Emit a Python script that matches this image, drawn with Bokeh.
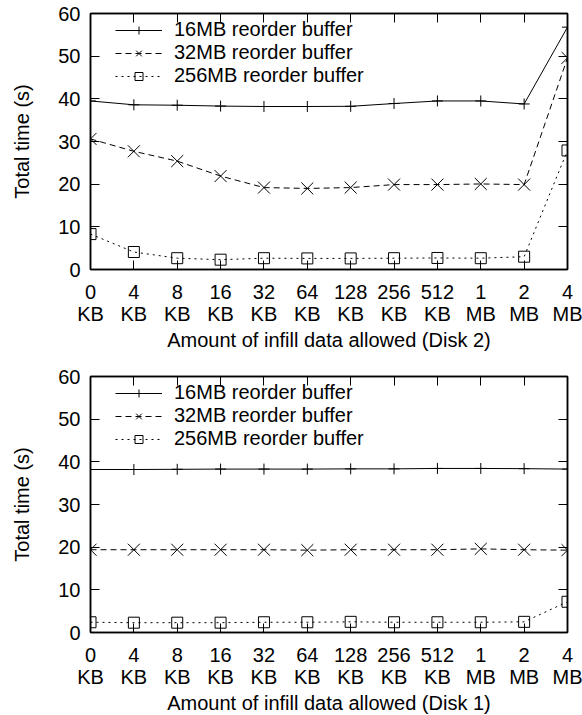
from bokeh.plotting import figure
from bokeh.layouts import column
from bokeh.models import (Range1d, FixedTicker, LinearAxis, Legend, LegendItem,
                          CustomJSTickFormatter)
from bokeh.embed import file_html
from bokeh.resources import INLINE

x_idx = list(range(12))
x_labels = ["0\nKB", "4\nKB", "8\nKB", "16\nKB", "32\nKB", "64\nKB", "128\nKB",
            "256\nKB", "512\nKB", "1\nMB", "2\nMB", "4\nMB"]
y_ticks = [0, 10, 20, 30, 40, 50, 60]

series_names = ["16MB reorder buffer", "32MB reorder buffer", "256MB reorder buffer"]

disk2_16 = [39.5, 38.6, 38.5, 38.3, 38.2, 38.2, 38.25, 38.9, 39.5, 39.5, 38.8, 56.8]
disk2_32 = [30.6, 27.7, 25.4, 21.9, 19.2, 19.0, 19.2, 19.9, 19.9, 20.05, 19.9, 49.6]
disk2_256 = [8.3, 4.1, 2.65, 2.3, 2.65, 2.6, 2.6, 2.65, 2.7, 2.65, 3.0, 27.9]

disk1_16 = [38.2, 38.2, 38.25, 38.3, 38.3, 38.3, 38.35, 38.35, 38.45, 38.45, 38.4, 38.3]
disk1_32 = [19.4, 19.4, 19.4, 19.4, 19.4, 19.3, 19.4, 19.4, 19.4, 19.6, 19.4, 19.3]
disk1_256 = [2.4, 2.3, 2.3, 2.3, 2.4, 2.4, 2.5, 2.4, 2.4, 2.4, 2.5, 7.2]

FONT = "Liberation Sans"
FS = "20px"

styles = [
    dict(dash="solid", marker="cross", size=11),
    dict(dash="6 4", marker="x", size=17),
    dict(dash="2 4", marker="square", size=11),
]

blank = CustomJSTickFormatter(code="return ''")


def make_plot(data, xlabel, top_border, bottom_border):
    p = figure(width=582, height=top_border + 256 + bottom_border,
               x_range=Range1d(0, 11), y_range=Range1d(0, 60),
               output_backend="svg", toolbar_location=None,
               min_border_left=90, min_border_right=15,
               min_border_top=top_border, min_border_bottom=bottom_border,
               frame_width=477, frame_height=256)
    p.xgrid.visible = False
    p.ygrid.visible = False
    p.outline_line_color = "black"
    p.outline_line_width = 1.5
    p.background_fill_color = "white"
    p.border_fill_color = "white"

    items = []
    for vals, name, st in zip(data, series_names, styles):
        r1 = p.line(x_idx, vals, line_color="black", line_width=1,
                    line_dash=st["dash"])
        kw = dict(line_color="black", line_width=1)
        if st["marker"] == "square":
            kw["fill_color"] = None
        r2 = p.scatter(x_idx, vals, marker=st["marker"], size=st["size"], **kw)
        items.append(LegendItem(label=name, renderers=[r1, r2]))

    legend = Legend(items=items, location=(25, 182),
                    label_text_font=FONT, label_text_font_size=FS,
                    label_text_color="black",
                    glyph_width=47, glyph_height=20, label_height=20,
                    label_standoff=12, spacing=-8, padding=0, margin=0,
                    border_line_color=None, background_fill_alpha=0)
    p.add_layout(legend)

    xa = p.xaxis[0]
    xa.ticker = FixedTicker(ticks=x_idx)
    xa.major_label_overrides = {i: lab for i, lab in zip(x_idx, x_labels)}
    ya = p.yaxis[0]
    ya.ticker = FixedTicker(ticks=y_ticks)
    for ax in (xa, ya):
        ax.major_tick_in = 9
        ax.major_tick_out = 0
        ax.minor_tick_line_color = None
        ax.major_tick_line_color = "black"
        ax.axis_line_color = "black"
        ax.axis_line_width = 1.5
        ax.major_label_text_font = FONT
        ax.major_label_text_font_size = FS
        ax.major_label_text_color = "black"
        ax.axis_label_text_font = FONT
        ax.axis_label_text_font_size = FS
        ax.axis_label_text_font_style = "normal"
        ax.axis_label_text_color = "black"
    xa.major_label_text_line_height = 1.0
    xa.major_label_standoff = 11
    ya.major_label_standoff = 10
    xa.axis_label = xlabel
    xa.axis_label_standoff = 1
    ya.axis_label = "Total time (s)"
    ya.axis_label_standoff = 22

    # mirrored ticks (gnuplot style)
    top = LinearAxis(ticker=FixedTicker(ticks=x_idx), formatter=blank,
                     major_tick_in=9, major_tick_out=0, minor_tick_line_color=None,
                     axis_line_color="black", axis_line_width=1.5,
                     major_label_standoff=0)
    right = LinearAxis(ticker=FixedTicker(ticks=y_ticks), formatter=blank,
                       major_tick_in=9, major_tick_out=0, minor_tick_line_color=None,
                       axis_line_color="black", axis_line_width=1.5,
                       major_label_standoff=0)
    p.add_layout(top, "above")
    p.add_layout(right, "right")
    return p


p1 = make_plot([disk2_16, disk2_32, disk2_256],
               "Amount of infill data allowed (Disk 2)", 13, 97)
p2 = make_plot([disk1_16, disk1_32, disk1_256],
               "Amount of infill data allowed (Disk 1)", 10, 80)

layout = column(p1, p2, spacing=0)
open("out.html", "w").write(file_html(layout, INLINE))
